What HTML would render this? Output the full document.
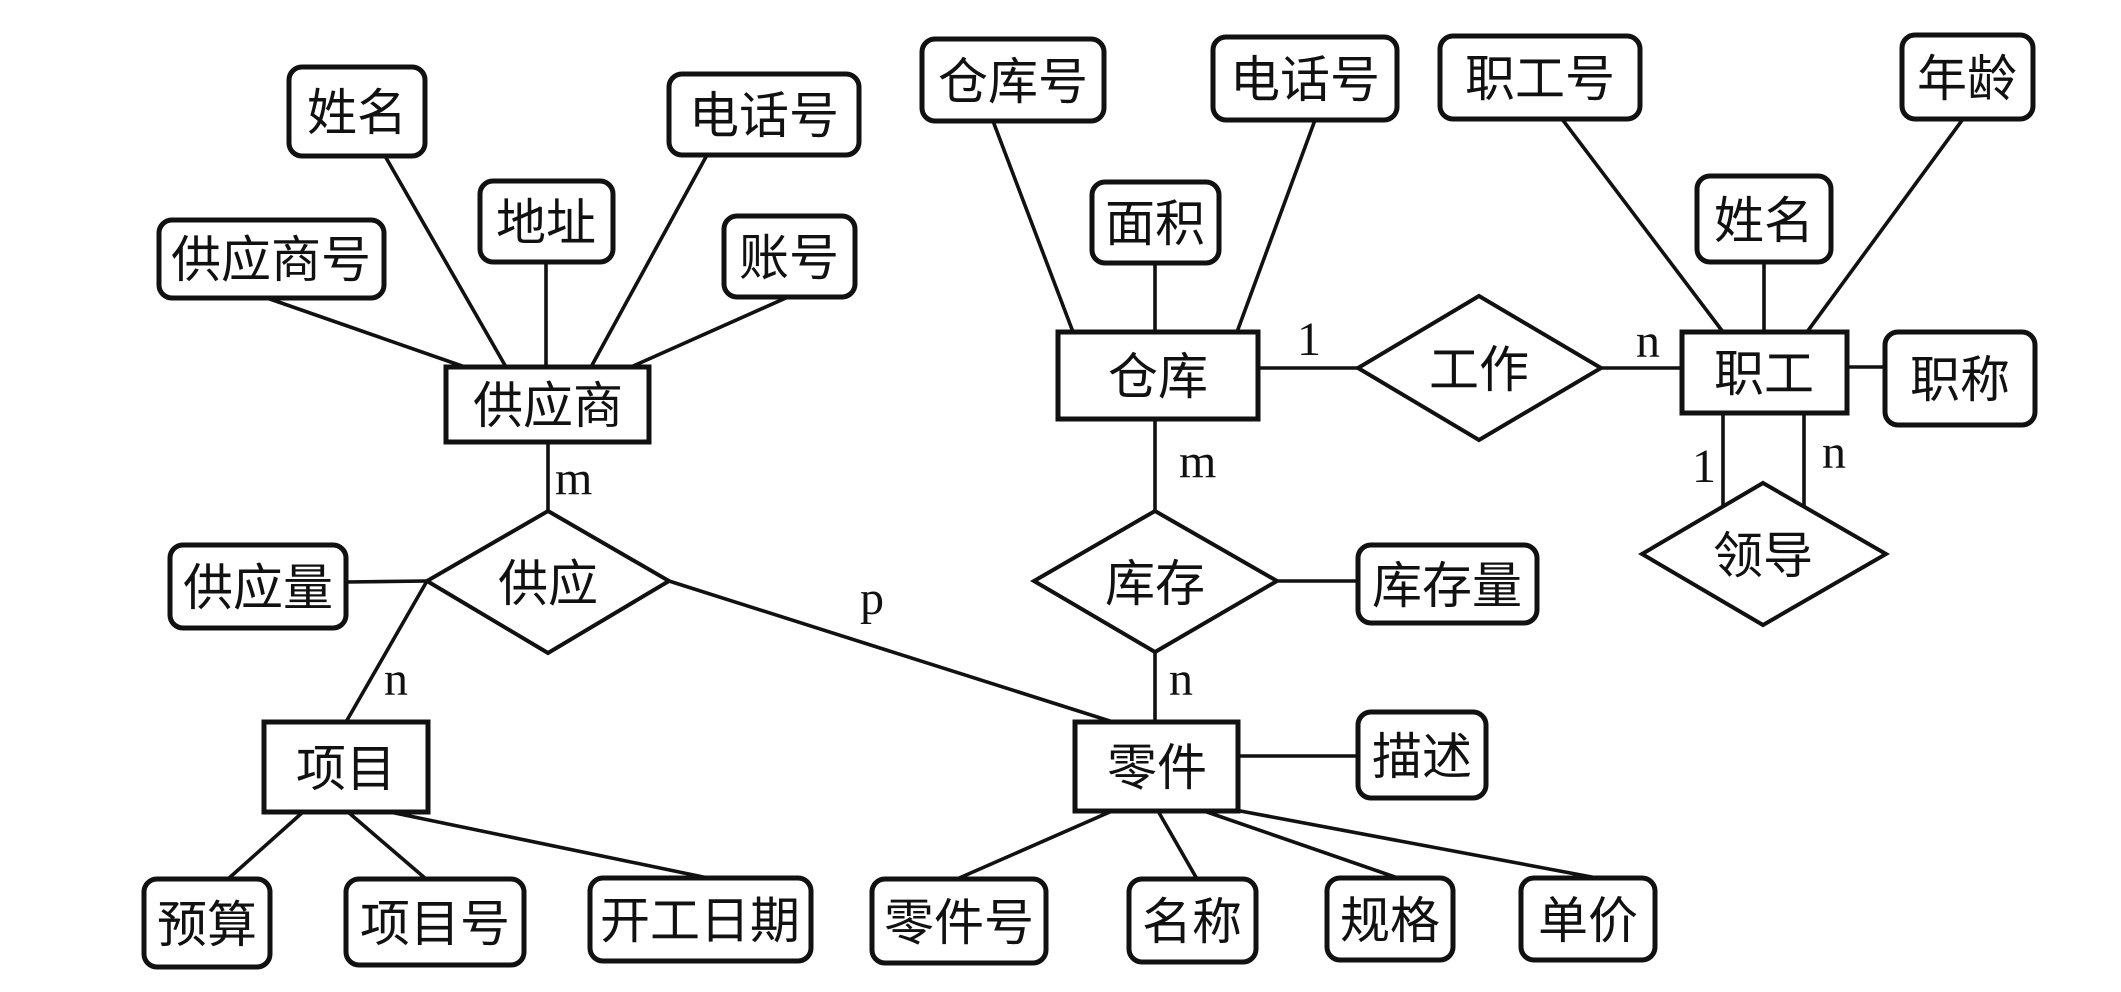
<!DOCTYPE html>
<html>
<head>
<meta charset="utf-8">
<style>
html,body{margin:0;padding:0;background:#fff;}
body{width:2121px;height:992px;overflow:hidden;}
svg{display:block;}
.t{font-family:"Liberation Sans","Noto Sans CJK SC",sans-serif;font-size:50px;font-weight:400;fill:#111;text-anchor:middle;}
.l{font-family:"Liberation Serif",serif;font-size:48px;fill:#111;}
.a{fill:#fff;stroke:#111;stroke-width:5;}
.e{fill:#fff;stroke:#111;stroke-width:5;}
.d{fill:#fff;stroke:#111;stroke-width:4;stroke-linejoin:miter;}
.ln{stroke:#111;stroke-width:3.6;fill:none;}
</style>
</head>
<body>
<svg width="2121" height="992" viewBox="0 0 2121 992" xmlns="http://www.w3.org/2000/svg">
<g class="ln">
<line x1="267" y1="298" x2="465" y2="367"/>
<line x1="385" y1="156" x2="506" y2="367"/>
<line x1="546" y1="262" x2="546" y2="367"/>
<line x1="707" y1="155" x2="591" y2="367"/>
<line x1="788" y1="297" x2="631" y2="367"/>
<line x1="548" y1="442" x2="548" y2="511"/>
<line x1="346" y1="582" x2="427" y2="581"/>
<line x1="427" y1="581" x2="346" y2="722"/>
<line x1="669" y1="581" x2="1113" y2="722"/>
<line x1="303" y1="812" x2="228" y2="879"/>
<line x1="348" y1="812" x2="426" y2="879"/>
<line x1="390" y1="812" x2="708" y2="878"/>
<line x1="993" y1="121" x2="1073" y2="332"/>
<line x1="1155" y1="263" x2="1155" y2="332"/>
<line x1="1315" y1="120" x2="1237" y2="332"/>
<line x1="1258" y1="368" x2="1358" y2="368"/>
<line x1="1601" y1="368" x2="1682" y2="368"/>
<line x1="1562" y1="119" x2="1723" y2="332"/>
<line x1="1764" y1="262" x2="1764" y2="332"/>
<line x1="1963" y1="119" x2="1807" y2="332"/>
<line x1="1847" y1="367" x2="1885" y2="367"/>
<line x1="1155" y1="419" x2="1155" y2="511"/>
<line x1="1155" y1="652" x2="1155" y2="722"/>
<line x1="1277" y1="581" x2="1358" y2="581"/>
<line x1="1238" y1="756" x2="1358" y2="756"/>
<line x1="1112" y1="811" x2="957" y2="879"/>
<line x1="1158" y1="811" x2="1197" y2="879"/>
<line x1="1204" y1="811" x2="1398" y2="878"/>
<line x1="1235" y1="810" x2="1597" y2="878"/>
</g>

<!-- attribute boxes -->
<rect class="a" x="289" y="67" width="136" height="89" rx="13"/>
<rect class="a" x="669" y="74" width="190" height="81" rx="13"/>
<rect class="a" x="480" y="181" width="133" height="81" rx="13"/>
<rect class="a" x="159" y="220" width="225" height="78" rx="13"/>
<rect class="a" x="724" y="216" width="131" height="81" rx="13"/>
<rect class="a" x="922" y="39" width="182" height="82" rx="13"/>
<rect class="a" x="1213" y="37" width="184" height="83" rx="13"/>
<rect class="a" x="1440" y="36" width="200" height="83" rx="13"/>
<rect class="a" x="1902" y="35" width="131" height="84" rx="13"/>
<rect class="a" x="1092" y="182" width="127" height="81" rx="13"/>
<rect class="a" x="1697" y="176" width="134" height="86" rx="13"/>
<rect class="a" x="1885" y="332" width="150" height="93" rx="13"/>
<rect class="a" x="170" y="545" width="176" height="83" rx="13"/>
<rect class="a" x="1358" y="545" width="179" height="78" rx="13"/>
<rect class="a" x="1358" y="712" width="128" height="86" rx="13"/>
<rect class="a" x="144" y="879" width="126" height="88" rx="13"/>
<rect class="a" x="346" y="879" width="178" height="86" rx="13"/>
<rect class="a" x="590" y="878" width="221" height="83" rx="13"/>
<rect class="a" x="872" y="879" width="174" height="84" rx="13"/>
<rect class="a" x="1129" y="879" width="127" height="83" rx="13"/>
<rect class="a" x="1327" y="878" width="126" height="82" rx="13"/>
<rect class="a" x="1521" y="878" width="134" height="82" rx="13"/>

<!-- entities -->
<rect class="e" x="446" y="367" width="203" height="75"/>
<rect class="e" x="1058" y="332" width="200" height="87"/>
<rect class="e" x="1682" y="332" width="165" height="81"/>
<rect class="e" x="264" y="722" width="164" height="90"/>
<rect class="e" x="1075" y="722" width="163" height="89"/>

<!-- relationships -->
<polygon class="d" points="548,511 669,581 548,653 427,581"/>
<polygon class="d" points="1155,511 1277,581 1155,652 1034,581"/>
<polygon class="d" points="1479,296 1601,368 1479,440 1358,368"/>
<polygon class="d" points="1763,483 1886,554 1763,625 1642,554"/>
<line class="ln" x1="1723" y1="413" x2="1723" y2="506"/>
<line class="ln" x1="1804" y1="413" x2="1804" y2="506"/>

<!-- text -->
<text class="t" x="357" y="130">姓名</text>
<text class="t" x="764" y="133">电话号</text>
<text class="t" x="546" y="240">地址</text>
<text class="t" x="271" y="277">供应商号</text>
<text class="t" x="789" y="275">账号</text>
<text class="t" x="1013" y="99">仓库号</text>
<text class="t" x="1305" y="97">电话号</text>
<text class="t" x="1540" y="96">职工号</text>
<text class="t" x="1967" y="96">年龄</text>
<text class="t" x="1155" y="241">面积</text>
<text class="t" x="1764" y="238">姓名</text>
<text class="t" x="1960" y="397">职称</text>
<text class="t" x="258" y="605">供应量</text>
<text class="t" x="1447" y="603">库存量</text>
<text class="t" x="1422" y="774">描述</text>
<text class="t" x="207" y="942">预算</text>
<text class="t" x="435" y="941">项目号</text>
<text class="t" x="700" y="938">开工日期</text>
<text class="t" x="959" y="940">零件号</text>
<text class="t" x="1192" y="939">名称</text>
<text class="t" x="1390" y="938">规格</text>
<text class="t" x="1588" y="938">单价</text>

<text class="t" x="548" y="423">供应商</text>
<text class="t" x="1158" y="394">仓库</text>
<text class="t" x="1764" y="391">职工</text>
<text class="t" x="346" y="786">项目</text>
<text class="t" x="1157" y="785">零件</text>

<text class="t" x="548" y="601">供应</text>
<text class="t" x="1155" y="601">库存</text>
<text class="t" x="1479" y="387">工作</text>
<text class="t" x="1763" y="573">领导</text>

<!-- cardinalities -->
<text class="l" x="555" y="494">m</text>
<text class="l" x="384" y="695">n</text>
<text class="l" x="860" y="614">p</text>
<text class="l" x="1179" y="477">m</text>
<text class="l" x="1169" y="695">n</text>
<text class="l" x="1297" y="355">1</text>
<text class="l" x="1636" y="357">n</text>
<text class="l" x="1692" y="482">1</text>
<text class="l" x="1822" y="468">n</text>
</svg>
</body>
</html>
